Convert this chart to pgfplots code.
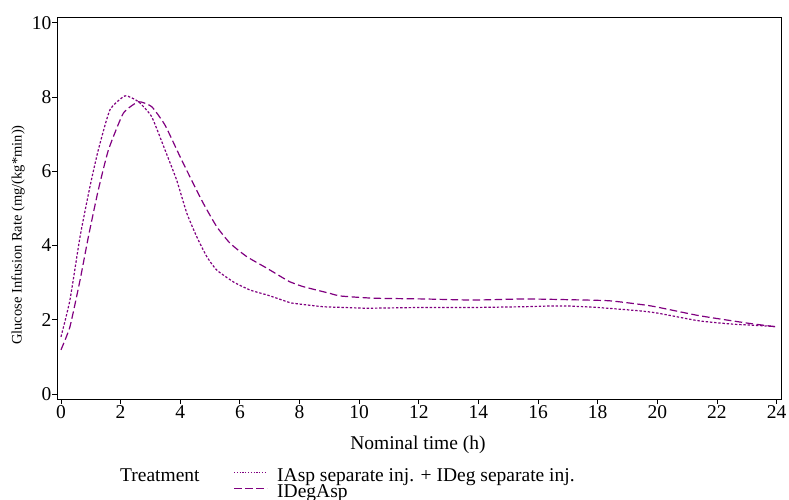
\documentclass[border=0pt]{standalone}
\usepackage{fontspec}
\setmainfont{Liberation Serif}
\usepackage{pgfplots}
\pgfplotsset{compat=1.18}
\definecolor{sasPurple}{HTML}{800080}
\tikzset{
  dotsty/.style={sasPurple, line width=1.2pt, dash pattern=on 2.4pt off 1.8pt},
  dashsty/.style={sasPurple, line width=1.2pt, dash pattern=on 7.5pt off 3.5pt},
}
\begin{document}
\begin{tikzpicture}
\path[use as bounding box] (-57pt,-99.7pt) rectangle (732pt,399.3pt);
\begin{axis}[
  scale only axis,
  width=724pt, height=382pt,
  xmin=-0.134, xmax=24.15,
  ymin=-0.143, ymax=10.145,
  xtick={0,2,...,24},
  ytick={0,2,...,10},
  xtick pos=bottom, ytick pos=left,
  tick align=outside,
  major tick length=4.5pt,
  axis line style={line width=0.8pt},
  tick style={line width=0.8pt, black},
  /pgf/number format/assume math mode=true,
  ticklabel style={font=\fontsize{19.5}{19.5}\selectfont},
  xticklabel style={inner sep=2pt},
  yticklabel style={inner sep=1pt},
  xlabel={Nominal time (h)},
  ylabel={Glucose Infusion Rate (mg/(kg*min))},
  xlabel style={font=\fontsize{19.5}{19.5}\selectfont, at={(axis description cs:0.4986,-0.12)}, anchor=center},
  ylabel style={font=\fontsize{14.5}{14.5}\selectfont, at={(axis description cs:-0.0539,0.43)}, anchor=center},
  clip=false,
]
\addplot[dotsty, smooth, tension=0.3] coordinates {
(0,1.54) (0.3,2.53) (0.64,4.24) (0.97,5.58) (1.25,6.57) (1.64,7.65) (2.15,8.03) (2.6,7.87)
(3.04,7.47) (3.49,6.57) (3.88,5.76) (4.22,4.87) (4.55,4.24) (4.89,3.70) (5.22,3.34) (5.78,3.02)
(6.34,2.80) (6.9,2.67) (7.24,2.58) (7.68,2.46) (8.02,2.42) (8.8,2.35) (9.5,2.33) (10.25,2.31)
(11.2,2.32) (12.15,2.33) (13.83,2.33) (15.5,2.35) (16.4,2.37) (17,2.37) (18,2.33) (19.4,2.24)
(20,2.18) (21.4,1.97) (22.55,1.88) (23.5,1.84) (24,1.81)
};
\addplot[dashsty, smooth, tension=0.3] coordinates {
(0,1.19) (0.3,1.81) (0.64,3.07) (0.92,4.24) (1.25,5.49) (1.59,6.57) (2.09,7.56) (2.6,7.87)
(3.04,7.74) (3.49,7.24) (4.0,6.38) (4.38,5.76) (4.77,5.14) (5.22,4.51) (5.67,4.06) (6.23,3.70)
(6.9,3.39) (7.46,3.12) (7.68,3.02) (8.13,2.89) (9.02,2.71) (9.36,2.64) (10.48,2.58) (12.15,2.56)
(13.83,2.53) (15.5,2.56) (16.4,2.55) (17,2.54) (18.4,2.51) (19.8,2.37) (21.4,2.11) (23.1,1.9)
(24,1.81)
};
% legend
\node[anchor=base west, inner sep=0pt, font=\fontsize{19.5}{19.5}\selectfont] at (axis description cs:0.087,-0.2157) {Treatment};
\draw[sasPurple, line width=1pt, dash pattern=on 1.2pt off 1.6pt] (axis description cs:0.2445,-0.1911) -- (axis description cs:0.2901,-0.1911);
\draw[dashsty] (axis description cs:0.2445,-0.2330) -- (axis description cs:0.2901,-0.2330);
\node[anchor=base west, inner sep=0pt, font=\fontsize{19.5}{19.5}\selectfont] at (axis description cs:0.3039,-0.2157) {IAsp separate inj. + IDeg separate inj.};
\node[anchor=base west, inner sep=0pt, font=\fontsize{19.5}{19.5}\selectfont] at (axis description cs:0.3039,-0.2560) {IDegAsp};
\end{axis}
\end{tikzpicture}
\end{document}
